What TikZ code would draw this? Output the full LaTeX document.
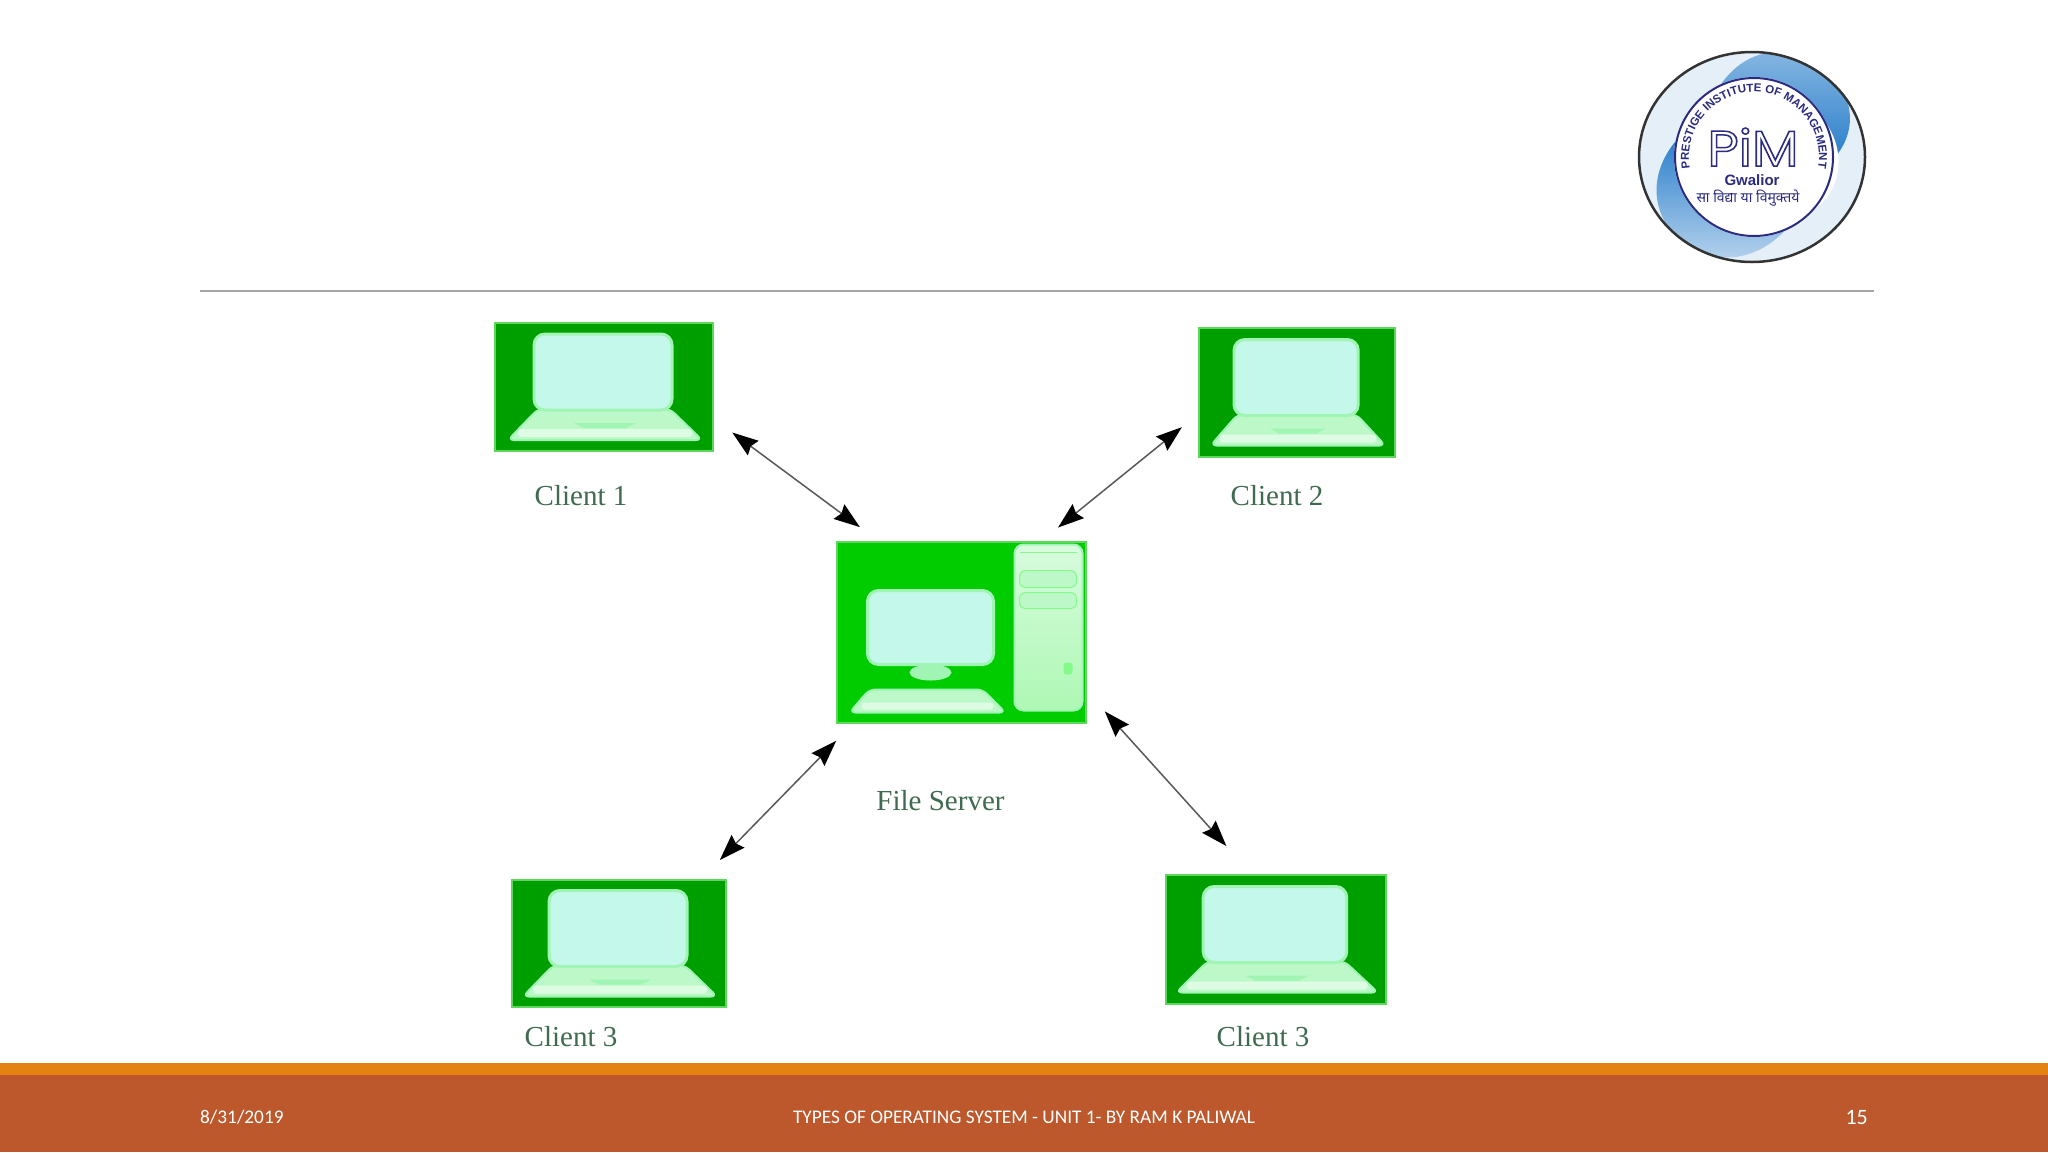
\documentclass[tikz,border=0pt]{standalone}
\usepackage{fontspec}
\setmainfont{Liberation Serif}
\newfontfamily\footfont{Carlito}
\newfontfamily\logofont{Liberation Sans}
\newfontfamily\pimfont{Poppins}
\newfontfamily\hindifont[Script=Devanagari]{Noto Sans}
\usetikzlibrary{positioning,arrows.meta,decorations.text}
\definecolor{clientgreen}{HTML}{009F00}
\definecolor{servergreen}{HTML}{00CC00}
\definecolor{edgegreen}{HTML}{5FD75F}
\definecolor{screenfill}{HTML}{C4F8EA}
\definecolor{screenedge}{HTML}{A0F5B4}
\definecolor{basefill}{HTML}{BDF8C8}
\definecolor{towerfill}{HTML}{AEF8B4}
\definecolor{labelgreen}{HTML}{3F6B50}
\definecolor{logonavy}{HTML}{2B2B80}
\definecolor{logoblue}{HTML}{1F78C8}
\definecolor{footorange}{HTML}{E48312}
\definecolor{footbrown}{HTML}{BD582C}
\begin{document}
\begin{tikzpicture}[x=1pt, y=-1pt,
  >={Stealth[length=26pt,width=18pt,inset=3pt,black]},
  clientbox/.style={draw=edgegreen, line width=1.5pt, fill=clientgreen, outer sep=0pt, inner sep=0pt},
  serverbox/.style={clientbox, fill=servergreen},
  boxlabel/.style={text=labelgreen, font=\fontsize{29}{31}\selectfont, inner sep=0pt},
  footlabel/.style={text=white, font=\footfont\fontsize{19.3}{22}\selectfont, inner sep=0pt},
  link/.style={<->, draw=black!65, line width=1.5pt},
  logotext/.style={text=logonavy, inner sep=0pt},
  screen/.style={fill=screenfill, draw=screenedge, line width=3pt, rounded corners=11pt},
  keys/.style={fill=basefill, draw=screenedge, line width=2pt, rounded corners=6pt},
  pics/laptop/.style={code={
    \draw[keys] (-66,22) -- (66,22) -- (98,53) -- (-96,53) -- cycle;
    \fill[white!50!basefill, rounded corners=3pt] (-86,42) rectangle (88,50);
    \fill[screenedge] (-30,36) -- (32,36) -- (22,41) -- (-20,41) -- cycle;
    \draw[screen] (-70,-53) rectangle (68,23);
  }},
  pics/desktop/.style={code={
    \draw[screen] (-94,-42) rectangle (32,32);
    \fill[screenedge] (-31,40) ellipse [x radius=21, y radius=8];
    \draw[keys] (-92,57) -- (21,57) -- (44,80) -- (-112,80) -- cycle;
    \fill[white!50!basefill, rounded corners=3pt] (-100,70) rectangle (32,77);
    \draw[keys, top color=basefill!60!white, bottom color=towerfill, rounded corners=9pt] (53,-88) rectangle (121,78);
    \draw[basefill!70!green, line width=1pt] (58,-80) -- (115,-80);
    \draw[keys, draw=basefill!70!green, line width=1pt, fill=basefill] (58,-62) rectangle (115,-45);
    \draw[keys, draw=basefill!70!green, line width=1pt, fill=basefill] (58,-40) rectangle (115,-24);
    \fill[basefill!70!green, rounded corners=3pt] (102,30) rectangle (111,42);
  }}]
\useasboundingbox (0,0) rectangle (2048,1152);
\fill[white] (0,0) rectangle (2048,1152);

\draw[black!35, line width=1.5pt] (200,291) -- (1874,291);

\node[clientbox, minimum width=218pt, minimum height=128pt] (client1) at (604,387) {};
\node[clientbox, minimum width=196pt, minimum height=129pt] (client2) at (1297,392.5) {};
\node[serverbox, minimum width=249pt, minimum height=181pt] (server) at (961.5,632.5) {};
\node[clientbox, minimum width=214pt, minimum height=127pt] (client3) at (619,943.5) {};
\node[clientbox, minimum width=220pt, minimum height=129pt] (client4) at (1276,939.5) {};

\pic at (client1) {laptop};
\pic[xscale=.9] at (client2) {laptop};
\pic at (client3) {laptop};
\pic[xscale=1.04] at (client4) {laptop};
\pic at (server) {desktop};

\node[boxlabel, below=34pt of client1, xshift=-23pt] (label1) {Client 1};
\node[boxlabel, below=28pt of client2, xshift=-20pt] (label2) {Client 2};
\node[boxlabel, below=67pt of server, xshift=-21pt] (labelserver) {File Server};
\node[boxlabel, below=19pt of client3, xshift=-48pt] (label3) {Client 3};
\node[boxlabel, below=22pt of client4, xshift=-13pt] (label4) {Client 3};

\draw[link, shorten <=24pt, shorten >=25pt] (client1.-16.4) -- (server.132);
\draw[link, shorten <=22pt, shorten >=23pt] (client2.192.7) -- (server.49.8);
\draw[link, shorten <=25pt, shorten >=28pt] (server.220.9) -- (client3.38.8);
\draw[link, shorten <=28pt, shorten >=39pt] (server.-25.2) -- (client4.110.4);

\begin{scope}[shift={(1752,157)}, y=1pt]
\begin{scope}
\clip (0,0) ellipse [x radius=113, y radius=105];
\fill[logoblue!12] (0,0) ellipse [x radius=113, y radius=105];
\shade[top color=logoblue!30, bottom color=logoblue] (125:70) .. controls (85:170) and (20:170) .. (-12:70) -- cycle;
\shade[top color=logoblue, bottom color=white] (155:70) .. controls (200:170) and (265:170) .. (320:70) -- cycle;
\fill[white] (-50:75) .. controls (-30:100) and (5:105) .. (38:78) -- cycle;
\end{scope}
\draw[black!80, line width=2.5pt] (0,0) ellipse [x radius=113, y radius=105];
\fill[white] (2,0) circle (80);
\draw[logonavy, line width=2pt] (2,0) circle (79);
\path[postaction={decorate, decoration={text along path, text align=center,
    text={|\logofont\bfseries\fontsize{11.5}{11.5}\selectfont\color{logonavy}|PRESTIGE INSTITUTE OF MANAGEMENT}}}]
  (2,0) ++(210:65) arc[start angle=210, end angle=-30, radius=65];
\node[logotext, xscale=1.08] (logopim) at (1,10) {\pimfont\fontsize{50}{50}\selectfont\special{pdf:code 1 Tr 1.5 w}PiM\special{pdf:code 0 Tr}};
\node[logotext] (logocity) at (0,-23) {\logofont\bfseries\fontsize{15}{15}\selectfont Gwalior};
\node[logotext] (logomotto) at (-4,-41) {\hindifont\fontsize{14}{14}\selectfont सा विद्या या विमुक्तये};
\end{scope}

\fill[footorange] (0,1063) rectangle (2048,1075);
\fill[footbrown] (0,1075) rectangle (2048,1152);
\node[footlabel, anchor=west] (footdate) at (200,1117) {8/31/2019};
\node[footlabel] (foottitle) at (1024,1117) {TYPES OF OPERATING SYSTEM - UNIT 1- BY RAM K PALIWAL};
\node[footlabel, anchor=east, font=\footfont\fontsize{22}{24}\selectfont] (footpage) at (1868,1117) {15};
\end{tikzpicture}
\end{document}
